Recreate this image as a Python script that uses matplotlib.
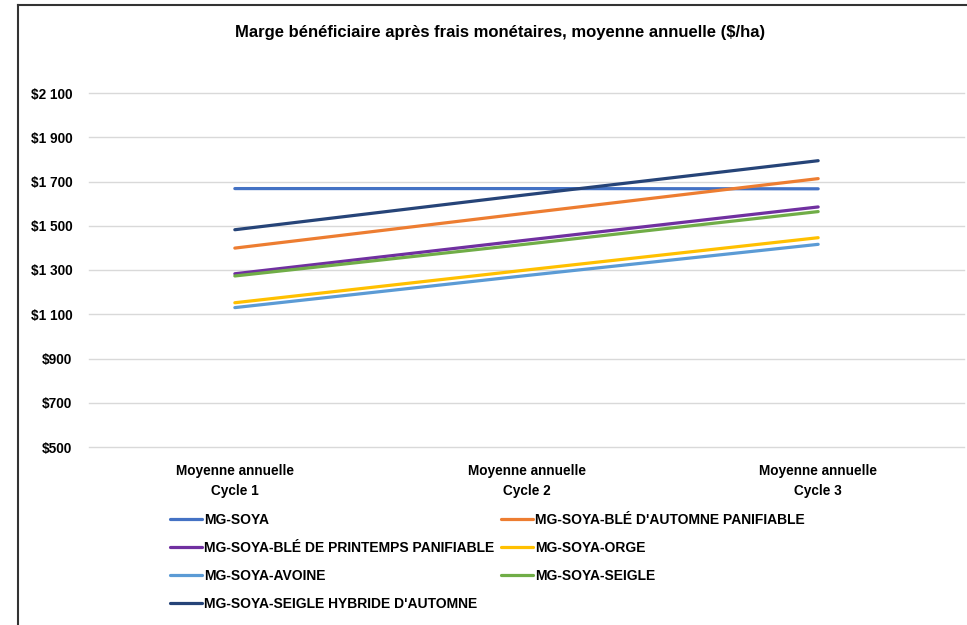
import matplotlib
matplotlib.use('Agg')
import matplotlib.pyplot as plt
from matplotlib.lines import Line2D
from matplotlib.ticker import FuncFormatter

plt.rcParams['font.family'] = ['Liberation Sans', 'DejaVu Sans']
plt.rcParams['font.weight'] = 'bold'

cycles = ['Moyenne annuelle\nCycle 1', 'Moyenne annuelle\nCycle 2', 'Moyenne annuelle\nCycle 3']
series_names = [
    'MG-SOYA',
    'MG-SOYA-BLÉ D\'AUTOMNE PANIFIABLE',
    'MG-SOYA-BLÉ DE PRINTEMPS PANIFIABLE',
    'MG-SOYA-ORGE',
    'MG-SOYA-AVOINE',
    'MG-SOYA-SEIGLE',
    'MG-SOYA-SEIGLE HYBRIDE D\'AUTOMNE',
]
mg_soya = [1668, 1668, 1667]
ble_automne = [1399, 1557, 1713]
ble_printemps = [1283, 1435, 1585]
orge = [1152, 1300, 1446]
avoine = [1130, 1275, 1416]
seigle = [1273, 1417, 1564]
seigle_hybride = [1482, 1640, 1794]
values = [mg_soya, ble_automne, ble_printemps, orge, avoine, seigle, seigle_hybride]
colors = ['#4472C4', '#ED7D31', '#7030A0', '#FFC000', '#5B9BD5', '#70AD47', '#264478']
yticks = [500, 700, 900, 1100, 1300, 1500, 1700, 1900, 2100]

fig = plt.figure(figsize=(9.67, 6.25), dpi=100)
ax = fig.add_axes([89 / 967, 1 - 447 / 625, (964 - 89) / 967, (447 - 93) / 625])

x = list(range(len(cycles)))
handles = []
for name, vals, c in zip(series_names, values, colors):
    h, = ax.plot(x, vals, color=c, lw=2.3, solid_capstyle='round', label=name)
    handles.append(h)

ax.set_xlim(-0.5, 2.5)
ax.set_ylim(500, 2100)
ax.set_yticks(yticks)
ax.yaxis.set_major_formatter(FuncFormatter(lambda v, p: '$' + format(int(v), ',').replace(',', ' ')))
ax.set_xticks(x)
ax.set_xticklabels(cycles, fontsize=9.8, fontweight='bold', linespacing=1.6)
ax.tick_params(axis='both', length=0, labelsize=9.8)
ax.tick_params(axis='x', pad=12)
ax.tick_params(axis='y', pad=12)
ax.grid(axis='y', color='#D9D9D9', lw=1)
ax.set_axisbelow(True)
for gl in ax.get_ygridlines():
    gl.set_clip_on(False)
for s in ax.spines.values():
    s.set_visible(False)

fig.text(500 / 967, 1 - 32 / 625, 'Marge bénéficiaire après frais monétaires, moyenne annuelle ($/ha)',
         ha='center', va='center', fontsize=12, fontweight='bold')

# legend is filled row by row in the reference
order = [0, 2, 4, 6, 1, 3, 5]
fig.legend([handles[i] for i in order], [series_names[i] for i in order],
           loc='upper left', bbox_to_anchor=(170 / 967, 1 - 513 / 625), ncol=2, frameon=False,
           fontsize=10, handlelength=2.3, handletextpad=0.15, columnspacing=0.5,
           labelspacing=1.0, borderaxespad=0, borderpad=0)

# border of the chart area (cropped on right and bottom)
fig.add_artist(Line2D([18 / 967, 18 / 967], [0, 1 - 5 / 625], color='#333333', lw=1.5))
fig.add_artist(Line2D([18 / 967, 1], [1 - 5 / 625, 1 - 5 / 625], color='#333333', lw=1.5))

fig.savefig('out.png', dpi=100)
